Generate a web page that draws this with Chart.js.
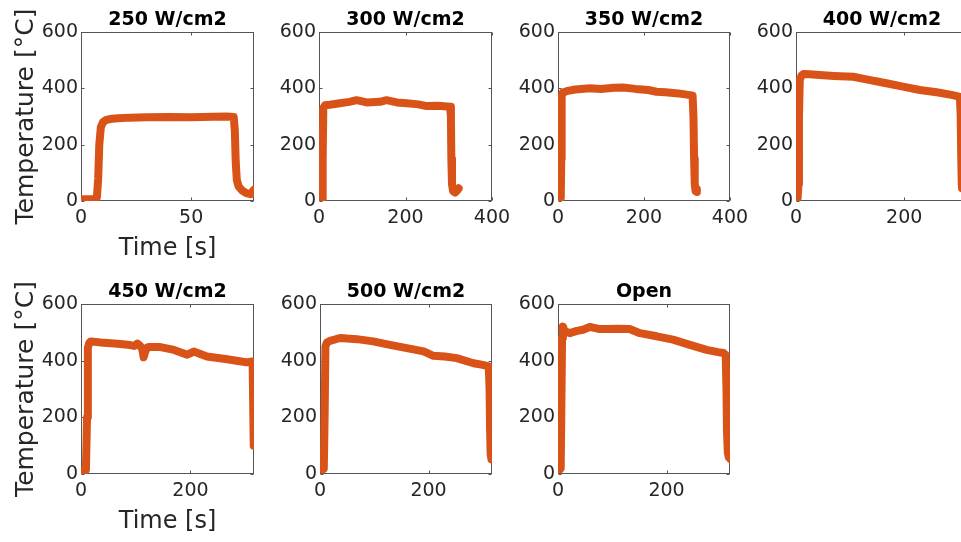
<!DOCTYPE html>
<html>
<head>
<meta charset="utf-8">
<script src="https://cdn.jsdelivr.net/npm/chart.js@4.4.1/dist/chart.umd.min.js"></script>
<style>
    body { margin: 0; background: #fff; width: 961px; height: 542px; position: relative; overflow: hidden; }
    canvas { position: absolute; }
</style>
</head>
<body>
<script>
// temperature runs, one pair of arrays per heat flux
const time250 = [0, 3, 6, 7.2, 7.8, 8.3, 9, 10, 11.5, 14, 17, 22, 30, 40, 50, 60, 66, 69.3, 69.8, 70.2, 70.7, 71.5, 73, 75, 77, 78.5];
const temp250 = [6, 6, 6, 12, 80, 200, 262, 280, 288, 292, 294, 296, 297, 298, 297, 299, 300, 298, 250, 140, 75, 52, 38, 28, 24, 40];

const time300 = [0, 4, 7, 8.5, 10, 14, 25, 48, 70, 87, 110, 141, 156, 180, 203, 230, 249, 275, 303, 305, 306, 307.5, 310, 315, 320, 323];
const temp300 = [6, 6, 8, 150, 330, 340, 342, 347, 352, 358, 350, 352, 358, 350, 347, 343, 337, 338, 335, 300, 150, 60, 35, 30, 38, 45];

const time350 = [0, 4, 6.5, 7.5, 8.5, 11, 20, 40, 74, 100, 130, 151, 180, 210, 229, 250, 280, 307, 313, 315, 316.5, 318, 320, 322, 323];
const temp350 = [6, 6, 10, 150, 370, 385, 390, 396, 400, 398, 402, 403, 398, 394, 388, 386, 382, 376, 374, 300, 150, 60, 35, 32, 42];

const time400 = [0, 3, 4.5, 5.5, 7, 10, 14, 25, 44, 70, 106, 130, 167, 200, 229, 260, 290, 303, 304.5, 305.5, 306.5, 307];
const temp400 = [8, 10, 60, 300, 430, 445, 451, 450, 447, 444, 441, 432, 418, 405, 394, 386, 376, 370, 300, 150, 60, 45];

const time450 = [0, 5, 9, 11, 12.5, 15, 18, 36, 67, 90, 97, 103, 108, 112, 114.5, 117, 121, 124, 145, 170, 194, 206, 230, 267, 290, 303, 312, 313.5, 314.5, 315.5];
const temp450 = [14, 12, 14, 200, 445, 462, 468, 464, 460, 455, 452, 460, 452, 440, 412, 430, 447, 448, 448, 438, 421, 432, 415, 405, 398, 394, 397, 390, 250, 100];

const time500 = [0, 4, 7, 8.5, 10, 13, 18.5, 37, 50, 68, 98, 129, 160, 191, 209, 230, 252, 283, 300, 311, 312.5, 313.5, 314.5, 316, 317];
const temp500 = [17, 15, 18, 200, 450, 465, 470, 480, 478, 476, 468, 456, 444, 433, 417, 415, 409, 391, 385, 380, 300, 150, 70, 52, 52];

const timeOpen = [0, 3, 5, 6, 7.5, 9, 12, 21.6, 35, 46, 58.5, 75, 89, 110, 132, 151, 182, 212, 243, 274, 295, 305, 309, 310.5, 311.5, 313, 315, 318];
const tempOpen = [17, 15, 20, 200, 480, 521, 505, 497, 505, 509, 519, 512, 512, 513, 512, 497, 486, 474, 456, 438, 430, 427, 420, 300, 150, 75, 58, 52];

const titles = ["250 W/cm2", "300 W/cm2", "350 W/cm2", "400 W/cm2", "450 W/cm2", "500 W/cm2", "Open"];
const xMaxes = [78.5, 400, 400, 318, 316, 317, 317];
const xTicks250 = [0, 50];
const xTicks = [0, 200, 400];
const yTicks = [0, 200, 400, 600];

const lineColor = '#D95319';
const axisColor = '#262626';

Chart.defaults.font.family = "'DejaVu Sans', sans-serif";
Chart.defaults.color = axisColor;

// box on all four sides with short inward tick marks
const boxPlugin = {
    id: 'axesBox',
    beforeDatasetsDraw(chart) {
        const {ctx, chartArea: a, scales: {x, y}} = chart;
        const L = Math.round(a.left) + 0.5, R = Math.round(a.right) - 0.5;
        const T = Math.round(a.top) + 0.5, B = Math.round(a.bottom) - 0.5;
        ctx.save();
        ctx.strokeStyle = '#555';
        ctx.lineWidth = 1;
        ctx.strokeRect(L, T, R - L, B - T);
        ctx.beginPath();
        x.ticks.forEach(t => {
            const px = Math.round(x.getPixelForValue(t.value)) + 0.5;
            ctx.moveTo(px, B); ctx.lineTo(px, B - 3);
            ctx.moveTo(px, T); ctx.lineTo(px, T + 3);
        });
        y.ticks.forEach(t => {
            const py = Math.round(y.getPixelForValue(t.value)) + 0.5;
            ctx.moveTo(L, py); ctx.lineTo(L + 3, py);
            ctx.moveTo(R, py); ctx.lineTo(R - 3, py);
        });
        ctx.stroke();
        ctx.restore();
    }
};

const panels = [
    {times: time250, temps: temp250, left: 81, top: 32, w: 173, h: 169, ticks: xTicks250, first: true},
    {times: time300, temps: temp300, left: 319, top: 32, w: 173, h: 169, ticks: xTicks},
    {times: time350, temps: temp350, left: 558, top: 32, w: 172, h: 169, ticks: xTicks},
    {times: time400, temps: temp400, left: 796, top: 32, w: 172, h: 169, ticks: xTicks},
    {times: time450, temps: temp450, left: 81, top: 304, w: 173, h: 170, ticks: xTicks, first: true},
    {times: time500, temps: temp500, left: 320, top: 304, w: 172, h: 170, ticks: xTicks},
    {times: timeOpen, temps: tempOpen, left: 558, top: 304, w: 172, h: 170, ticks: xTicks},
];

const yAxisW = 80, xAxisH = 70, titleH = 32, padR = 25;

panels.forEach((p, i) => {
    const canvas = document.createElement('canvas');
    canvas.width = yAxisW + p.w + padR;
    canvas.height = titleH + p.h + xAxisH;
    canvas.style.left = (p.left - yAxisW) + 'px';
    canvas.style.top = (p.top - titleH) + 'px';
    document.body.appendChild(canvas);

    const xMax = xMaxes[i];
    new Chart(canvas, {
        type: 'line',
        data: {
            datasets: [{
                data: p.times.map((t, k) => ({x: t, y: p.temps[k]})),
                borderColor: lineColor,
                borderWidth: 8,
                borderCapStyle: 'round',
                borderJoinStyle: 'round',
                pointRadius: 0,
                tension: 0,
            }]
        },
        options: {
            responsive: false,
            animation: false,
            devicePixelRatio: 1,
            layout: {padding: {left: 0, top: 0, right: padR, bottom: 0}},
            plugins: {
                legend: {display: false},
                tooltip: {enabled: false},
                title: {
                    display: true,
                    text: titles[i],
                    fullSize: false,
                    color: '#000',
                    font: {size: 19, weight: 'bold'},
                    padding: {top: 9, bottom: 0.2},
                }
            },
            scales: {
                x: {
                    type: 'linear',
                    min: 0,
                    max: xMax,
                    grid: {display: false, drawTicks: false},
                    border: {display: false},
                    afterBuildTicks: s => { s.ticks = p.ticks.filter(v => v <= xMax).map(v => ({value: v})); },
                    afterFit: s => { s.height = xAxisH; },
                    ticks: {font: {size: 19}, color: axisColor, padding: 6, maxRotation: 0},
                    title: {
                        display: !!p.first,
                        text: 'Time [s]',
                        color: axisColor,
                        font: {size: 24},
                        padding: {top: 0, bottom: 8},
                    }
                },
                y: {
                    min: 0,
                    max: 600,
                    grid: {display: false, drawTicks: false},
                    border: {display: false},
                    afterBuildTicks: s => { s.ticks = yTicks.map(v => ({value: v})); },
                    afterFit: s => { s.width = yAxisW; },
                    ticks: {font: {size: 19}, color: axisColor, padding: 3},
                    title: {
                        display: !!p.first,
                        text: 'Temperature [°C]',
                        color: axisColor,
                        font: {size: 25},
                        padding: {top: 10, bottom: 0},
                    }
                }
            }
        },
        plugins: [boxPlugin]
    });
});
</script>
</body>
</html>
